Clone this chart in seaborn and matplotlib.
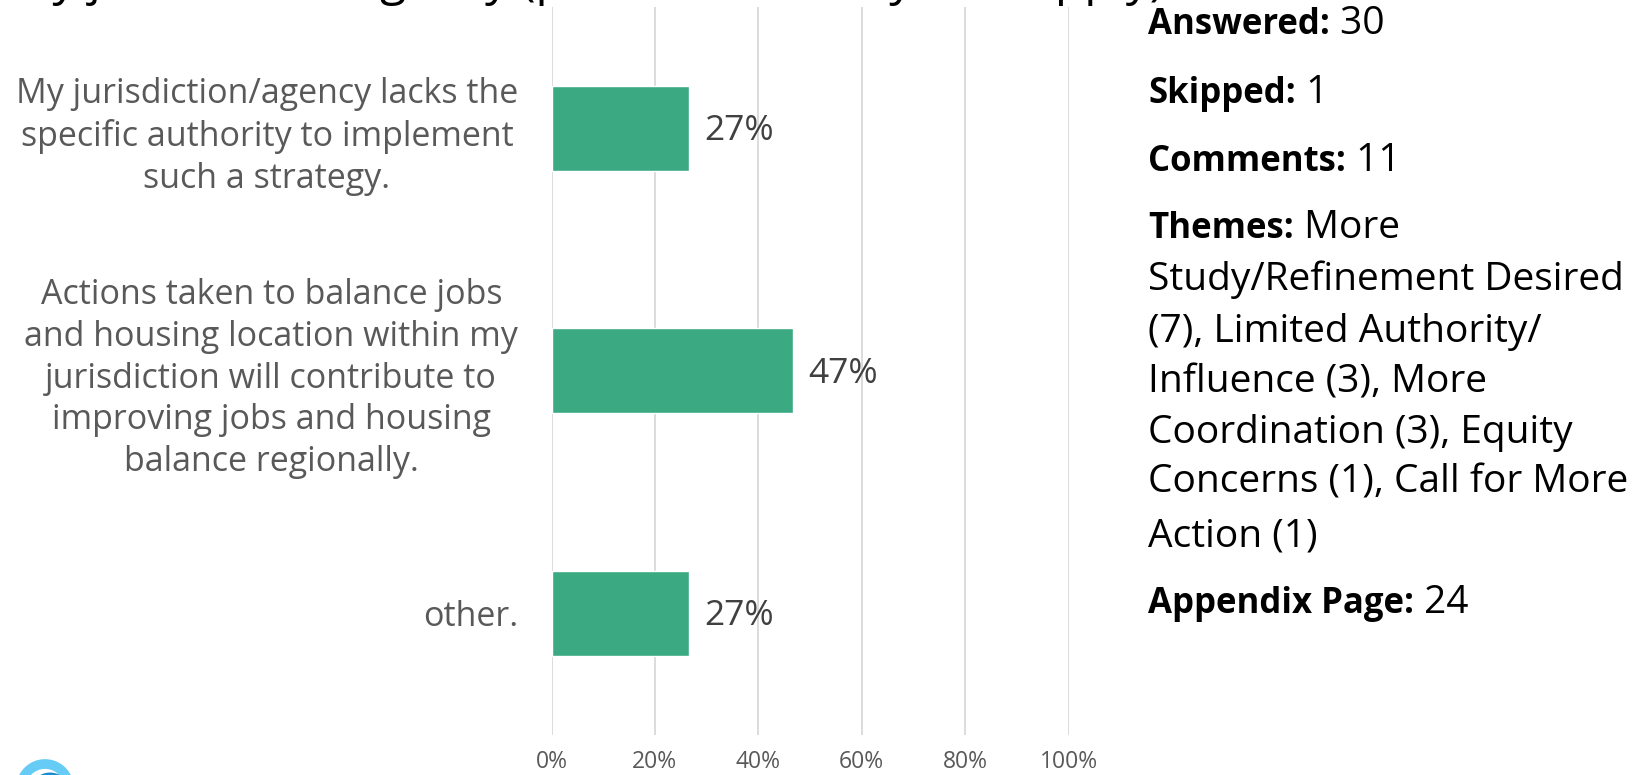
import matplotlib
matplotlib.use("Agg")
import matplotlib.pyplot as plt
import seaborn as sns
import pandas as pd
from matplotlib.patches import Arc

# ---- data ----
categories = [
    "My jurisdiction/agency lacks the\nspecific authority to implement\nsuch a strategy.",
    "Actions taken to balance jobs\nand housing location within my\njurisdiction will contribute to\nimproving jobs and housing\nbalance regionally.",
    "other.",
]
values = [26.67, 46.67, 26.67]
value_labels = ["27%", "47%", "27%"]
x_ticks = [0, 20, 40, 60, 80, 100]
x_tick_labels = ["0%", "20%", "40%", "60%", "80%", "100%"]
title_text = "my jurisdiction/agency (please select any that apply)"
stats = [("Answered:", " 30"), ("Skipped:", " 1"), ("Comments:", " 11")]
themes_label = "Themes:"
themes_lines = [" More", "Study/Refinement Desired", "(7), Limited Authority/",
                "Influence (3), More", "Coordination (3), Equity",
                "Concerns (1), Call for More", "Action (1)"]
appendix = ("Appendix Page:", " 24")

df = pd.DataFrame({"category": categories, "value": values})

sns.set_theme(style="white")
plt.rcParams["font.family"] = ["Open Sans", "DejaVu Sans"]

W, H = 1641, 775
fig = plt.figure(figsize=(W / 100, H / 100), dpi=100)
ax = fig.add_axes([551.5 / W, 1 - 734.5 / H, 517 / W, (734.5 - 7) / H])

sns.barplot(data=df, x="value", y="category", orient="h", color="#3BAA83",
            width=0.35, saturation=1, ax=ax)
ax.set_xlim(0, 100)
ax.set_ylim(2.5, -0.5)
ax.set_xticks(x_ticks)
ax.set_xticklabels(x_tick_labels)
ax.set_xlabel("")
ax.set_ylabel("")
ax.grid(axis="x", color="#D9D9D9", linewidth=1.3)
ax.set_axisbelow(True)
for s in ax.spines.values():
    s.set_visible(False)
ax.tick_params(axis="x", length=0, pad=11, labelsize=16.5, labelcolor="#595959")
ax.tick_params(axis="y", length=0, pad=24, labelsize=24.5, labelcolor="#595959")
for lab in ax.get_yticklabels():
    lab.set_multialignment("center")
    lab.set_linespacing(1.3)

for i, (v, t) in enumerate(zip(values, value_labels)):
    ax.annotate(t, xy=(v, i), xytext=(11, -2), textcoords="offset points",
                va="center", ha="left", fontsize=25.5, color="#404040")

# cut-off title at the very top (only descenders visible, as in the source)
fig.text(8 / W, 1 + 5 / H, title_text, fontsize=34.5, color="black",
         va="baseline", ha="left")

# right-hand panel
x0 = 1148 / W
reg = 28
bold = 25
dy = 4


def bold_pair(y, b, r):
    t = fig.text(x0, 1 - (y + dy) / H, b, fontsize=bold, fontweight="bold",
                 color="black", va="center", ha="left")
    ax.annotate(r, xy=(1, 0), xycoords=t, va="bottom", ha="left",
                fontsize=reg, color="black", annotation_clip=False)


for (b, r), y in zip(stats, [21, 90, 158]):
    bold_pair(y, b, r)

bold_pair(225, themes_label, themes_lines[0])
for line, y in zip(themes_lines[1:], [276, 328, 378, 429, 479, 532]):
    fig.text(x0, 1 - (y + dy) / H, line, fontsize=reg, color="black",
             va="center", ha="left")

bold_pair(600, appendix[0], appendix[1])

# partial logo at bottom-left
fig.add_artist(Arc((45 / W, 1 - 788 / H), 48 / W, 48 / H, theta1=25, theta2=165,
                   transform=fig.transFigure, color="#66CCF5", linewidth=7))
fig.add_artist(Arc((50 / W, 1 - 793 / H), 34 / W, 34 / H, theta1=30, theta2=140,
                   transform=fig.transFigure, color="#1E8BD0", linewidth=5))

fig.savefig("out.png", dpi=100)
